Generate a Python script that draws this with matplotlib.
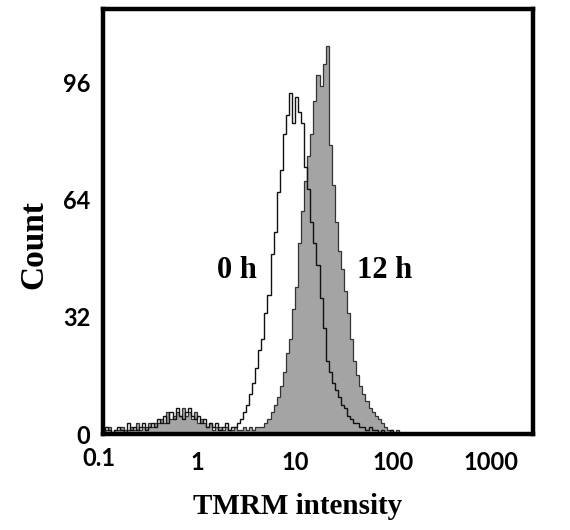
import numpy as np
import matplotlib
matplotlib.use("Agg")
import matplotlib.pyplot as plt
from matplotlib.transforms import blended_transform_factory

# channel grid: 128 log channels from 0.1 to 1000
channel_edges = np.logspace(-1, 3, 129)

# counts per channel
counts_0h = [1, 0, 2, 1, 0, 1, 2, 1, 0, 3,
             1, 2, 1, 2, 3, 1, 2, 3, 2, 4,
             3, 5, 3, 6, 4, 7, 5, 4, 6, 7,
             5, 4, 5, 3, 4, 2, 3, 2, 3, 1,
             2, 3, 1, 2, 2, 3, 4, 6, 8, 11,
             14, 18, 23, 26, 33, 38, 49, 55, 66, 72,
             82, 87, 93, 85, 92, 88, 85, 73, 67, 58,
             52, 46, 37, 29, 20, 17, 14, 12, 10, 8,
             7, 5, 4, 3, 3, 2, 2, 1, 2, 1,
             1, 0, 1, 0, 0, 1, 0, 0, 0, 0] + [0] * 28

counts_12h = [0, 1, 1, 2, 0, 1, 1, 2, 1, 1,
              2, 1, 3, 1, 2, 2, 3, 2, 3, 3,
              4, 3, 6, 4, 5, 6, 5, 7, 5, 6,
              4, 6, 3, 4, 3, 2, 3, 1, 2, 2,
              1, 2, 1, 1, 2, 1, 1, 2, 1, 2,
              1, 2, 2, 2, 3, 4, 6, 8, 10, 13,
              17, 22, 26, 34, 40, 52, 61, 69, 76, 82,
              91, 98, 95, 101, 106, 79, 68, 58, 50, 45,
              39, 33, 26, 20, 16, 13, 11, 9, 7, 6,
              5, 4, 3, 2, 1, 1, 0, 1, 0, 0] + [0] * 28

x_ticks = [1, 10, 100, 1000]
x_tick_labels = ["1", "10", "100", "1000"]
y_ticks = [0, 32, 64, 96]

fig = plt.figure(figsize=(5.7, 5.3), dpi=100)
ax = fig.add_axes([103 / 570, 1 - 434 / 530, 430 / 570, 425 / 530])

ax.stairs(counts_12h, channel_edges, fill=True, color="#a4a4a4")
ax.stairs(counts_12h, channel_edges, color="#333333", linewidth=0.9)
ax.stairs(counts_0h, channel_edges, color="#111111", linewidth=1.0)

ax.set_xscale("log")
ax.set_xlim(0.1097, 2683)
ax.set_ylim(0, 116)

tick_font = dict(family="Lato", weight="bold", size=17)
ax.set_xticks(x_ticks)
ax.set_xticklabels(x_tick_labels, **tick_font)
ax.xaxis.set_minor_locator(matplotlib.ticker.NullLocator())
ax.set_yticks(y_ticks)
ax.set_yticklabels([str(v) for v in y_ticks], **tick_font)
ax.tick_params(axis="x", length=0, pad=12)
ax.tick_params(axis="y", length=0, pad=9)

# the 0.1 label sits just left of the frame
trans = blended_transform_factory(ax.transData, ax.transAxes)
ax.text(0.1, -0.031, "0.1", transform=trans, ha="center", va="top",
        clip_on=False, **tick_font)

for sp in ax.spines.values():
    sp.set_linewidth(3.2)
    sp.set_color("black")

label_font = dict(family="Liberation Serif", weight="bold")
ax.set_xlabel("TMRM intensity", fontsize=21, labelpad=14, x=0.452, **label_font)
ax.set_ylabel("Count", fontsize=24, labelpad=10, y=0.445, **label_font)

ax.text(2.56, 44.6, "0 h", ha="center", va="center", fontsize=22, **label_font)
ax.text(82.8, 44.6, "12 h", ha="center", va="center", fontsize=22, **label_font)

fig.savefig("out.png", dpi=100)
